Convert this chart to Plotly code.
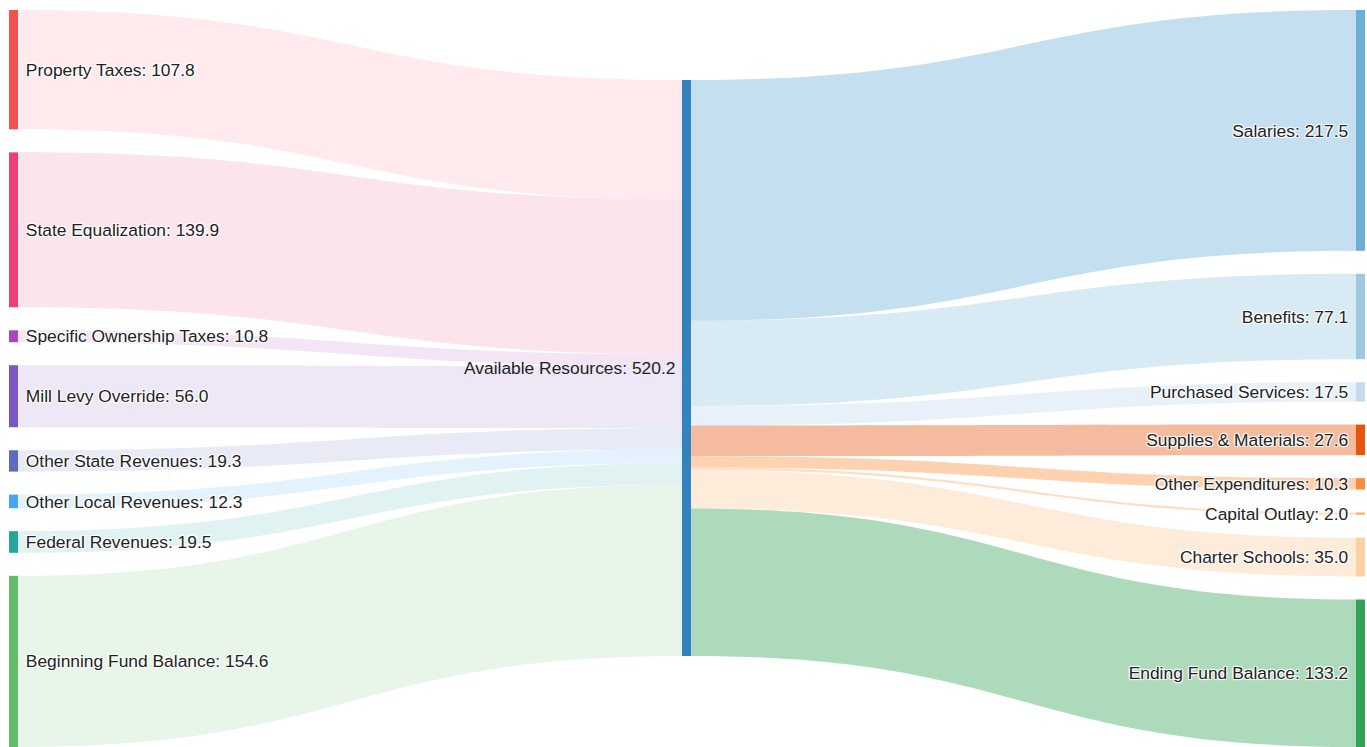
import plotly.graph_objects as go

sources_names = ["Property Taxes", "State Equalization", "Specific Ownership Taxes",
                 "Mill Levy Override", "Other State Revenues", "Other Local Revenues",
                 "Federal Revenues", "Beginning Fund Balance"]
sources_values = [107.8, 139.9, 10.8, 56.0, 19.3, 12.3, 19.5, 154.6]

middle_name = "Available Resources"

uses_names = ["Salaries", "Benefits", "Purchased Services", "Supplies & Materials",
              "Other Expenditures", "Capital Outlay", "Charter Schools", "Ending Fund Balance"]
uses_values = [217.5, 77.1, 17.5, 27.6, 10.3, 2.0, 35.0, 133.2]

source_colors = ["#EF5350", "#EC407A", "#AB47BC", "#7E57C2", "#5C6BC0", "#42A5F5", "#26A69A", "#66BB6A"]
source_link_colors = ["#FFEBEE", "#FCE4EC", "#F3E5F5", "#EDE7F6", "#E8EAF6", "#E3F2FD", "#E0F2F1", "#E8F5E9"]
middle_color = "#3182BD"
use_colors = ["#6BAED6", "#9ECAE1", "#C6DBEF", "#E6550D", "#FD8D3C", "#FDAE6B", "#FDD0A2", "#31A354"]

# layout settings (pixels)
W, H = 1367, 747
ML, MR, MT, MB = 9, 2, 10, 0
PAD = 23
THICK = 9
MID_TOP = 70  # top of the middle node within the plot area
MID_X = 0.4996
FONT = dict(family="Arial, Liberation Sans, sans-serif", size=17.4, color="#222")


def hex_rgba(h, a):
    h = h.lstrip("#")
    return f"rgba({int(h[0:2],16)},{int(h[2:4],16)},{int(h[4:6],16)},{a})"


NB = "\u00a0"
middle_total = sum(sources_values)
middle_label = f"{middle_name}: {middle_total:.1f}"
labels = ([f"{NB}{n}: {v:.1f}{NB}" for n, v in zip(sources_names, sources_values)]
          + [""]
          + [f"{NB}{n}: {v:.1f}{NB}" for n, v in zip(uses_names, uses_values)])
node_colors = source_colors + [middle_color] + use_colors

# node positions computed from the values (stacked columns with padding)
pw, ph = W - ML - MR, H - MT - MB


def column_centers(vals):
    k = (ph - (len(vals) - 1) * PAD) / sum(vals)
    ys, y = [], 0.0
    for v in vals:
        hgt = v * k
        ys.append((y + hgt / 2) / ph)
        y += hgt + PAD
    return ys, k


left_y, k = column_centers(sources_values)
right_y, _ = column_centers(uses_values)
mid_y = [(middle_total * k / 2 + MID_TOP) / ph]

node_x = ([THICK / 2 / pw] * len(sources_values) + [MID_X]
          + [1 - THICK / 2 / pw] * len(uses_values))
node_y = left_y + mid_y + right_y

mid = len(sources_names)
link_src, link_tgt, link_val, link_col = [], [], [], []
for i, v in enumerate(sources_values):
    link_src.append(i); link_tgt.append(mid); link_val.append(v); link_col.append(source_link_colors[i])
for j, v in enumerate(uses_values):
    link_src.append(mid); link_tgt.append(mid + 1 + j); link_val.append(v); link_col.append(hex_rgba(use_colors[j], 0.4))

fig = go.Figure(go.Sankey(
    arrangement="snap",
    node=dict(label=labels, color=node_colors, pad=PAD, thickness=THICK,
              line=dict(width=0), x=node_x, y=node_y,
              customdata=[*labels[:mid], middle_label, *labels[mid + 1:]],
              hovertemplate="%{customdata}<extra></extra>"),
    link=dict(source=link_src, target=link_tgt, value=link_val, color=link_col),
    textfont=FONT,
))
fig.add_annotation(x=MID_X - THICK / 2 / pw, y=1 - mid_y[0], xref="paper", yref="paper",
                   text=middle_label, showarrow=False, xanchor="right", yanchor="middle",
                   xshift=-5, font=FONT)
fig.update_layout(margin=dict(l=ML, r=MR, t=MT, b=MB), paper_bgcolor="white",
                  width=W, height=H)
fig.write_html("out.html")
